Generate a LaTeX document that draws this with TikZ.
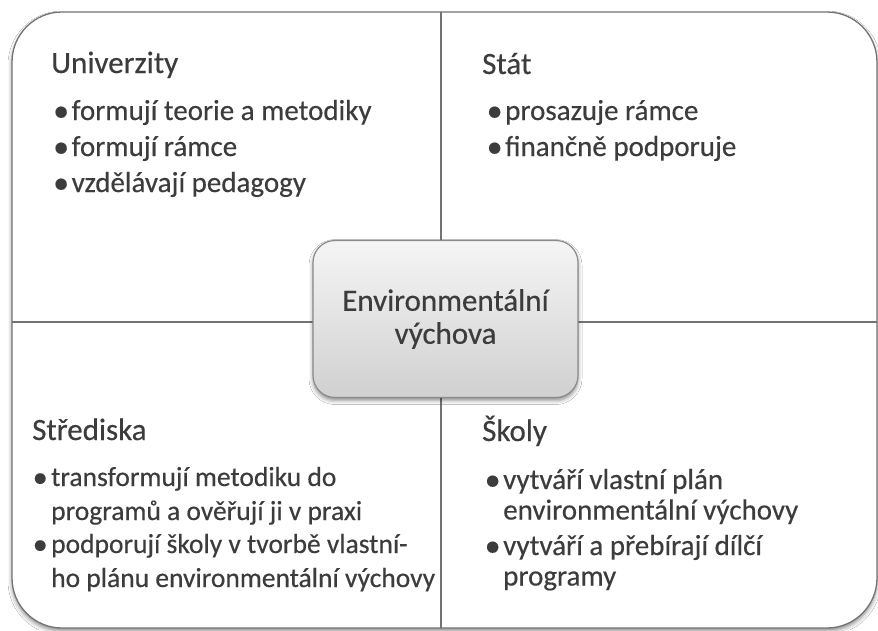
\documentclass[tikz,border=0pt]{standalone}
\usepackage{fontspec}
\setmainfont{Carlito}[FakeBold=0.35]
\usetikzlibrary{shadows.blur}

\definecolor{ink}{HTML}{3C3C3C}
\definecolor{framegray}{HTML}{737373}
\definecolor{boxtop}{HTML}{F5F5F5}
\definecolor{boxbottom}{HTML}{D0D0D0}
\definecolor{boxline}{HTML}{8A8A8A}

% bullet hung to the left of an item's first line
\newcommand\itemdot{\llap{\makebox[18.5pt][l]{\raisebox{-0.04em}{\scalebox{1.1}{•}}}}}

\begin{document}
\begin{tikzpicture}[x=1pt,y=-1pt,
  quadtitle/.style={anchor=base west, inner sep=0pt, text=ink,
    font=\fontsize{31}{37}\selectfont},
  % multi-line items are placed by the baseline of their last line
  item/.style={anchor=base west, inner sep=0pt, text=ink, align=left},
  topitem/.style={item, font=\fontsize{29}{35.5}\selectfont},
  blitem/.style={item, font=\fontsize{27.5}{34}\selectfont},
  britem/.style={item, font=\fontsize{29}{30.5}\selectfont},
  divider/.style={draw=framegray, line width=1.2pt},
  centre/.style={draw=boxline, line width=1.2pt, rounded corners=22pt,
    top color=boxtop, bottom color=boxbottom, text=ink, align=center,
    minimum width=265pt, minimum height=157pt, inner sep=0pt,
    font=\fontsize{31}{33}\selectfont,
    blur shadow={shadow xshift=0pt, shadow yshift=-3pt,
      shadow blur radius=4pt, shadow opacity=45}}]

\useasboundingbox (0,0) rectangle (878,630);
\fill[white] (0,0) rectangle (878,630);

% outer frame with the four quadrants
\draw[framegray, line width=1.3pt, fill=white, rounded corners=50pt,
  blur shadow={shadow xshift=0pt, shadow yshift=-3pt,
    shadow blur radius=4pt, shadow opacity=45}]
  (12,12) rectangle (877,628);

\coordinate (vtop) at (441,12);
\coordinate (vbot) at (441,628);
\coordinate (hleft) at (12,322);
\coordinate (hright) at (877,322);
\draw[divider] (vtop) -- (vbot);
\draw[divider] (hleft) -- (hright);

% centre box
\node[centre] (ev) at (445.5,319) {Environmentální\\výchova};

% top left
\node[quadtitle] (uni) at (51,73) {Univerzity};
\node[topitem] (uni1) at (71.5,120) {\itemdot formují teorie a metodiky};
\node[topitem] (uni2) at (71.5,156) {\itemdot formují rámce};
\node[topitem] (uni3) at (71.5,192) {\itemdot vzdělávají pedagogy};

% top right
\node[quadtitle] (stat) at (482,74) {Stát};
\node[topitem] (stat1) at (505,120) {\itemdot prosazuje rámce};
\node[topitem] (stat2) at (505,156) {\itemdot finančně podporuje};

% bottom left
\node[quadtitle] (stred) at (32,440) {Střediska};
\node[blitem] (stred1) at (51,520)
  {\itemdot transformují metodiku do\\programů a ověřují ji v praxi};
\node[blitem] (stred2) at (51,587)
  {\itemdot podporují školy v tvorbě vlastní-\\ho plánu environmentální výchovy};

% bottom right
\node[quadtitle] (skoly) at (482,441) {Školy};
\node[britem] (skoly1) at (503,519.5)
  {\itemdot vytváří vlastní plán\\environmentální výchovy};
\node[britem] (skoly2) at (503,585.5)
  {\itemdot vytváří a přebírají dílčí\\programy};

\end{tikzpicture}
\end{document}
